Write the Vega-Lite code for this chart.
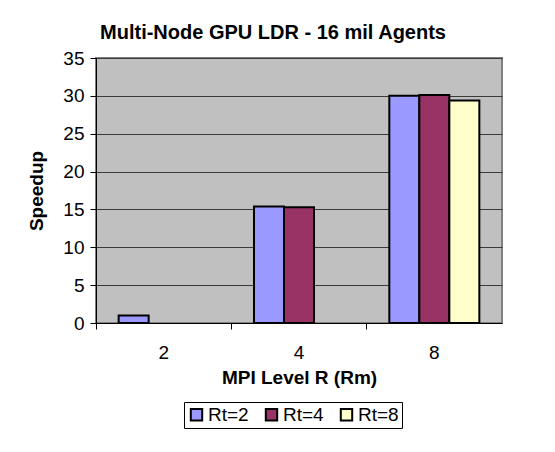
{
  "$schema": "https://vega.github.io/schema/vega-lite/v6.json",
  "autosize": {"type": "none"},
  "width": 406,
  "height": 265,
  "padding": {"left": 96, "top": 58, "right": 53, "bottom": 129},
  "background": "white",
  "title": {
    "text": "Multi-Node GPU LDR - 16 mil Agents",
    "font": "Liberation Sans",
    "fontSize": 20,
    "fontWeight": "bold",
    "color": "black",
    "anchor": "middle",
    "dx": -26,
    "offset": 6
  },
  "data": {
    "values": [
      {"R": "2", "Rt": "Rt=2", "speedup": 1.0},
      {"R": "4", "Rt": "Rt=2", "speedup": 15.4},
      {"R": "4", "Rt": "Rt=4", "speedup": 15.3},
      {"R": "8", "Rt": "Rt=2", "speedup": 30.0},
      {"R": "8", "Rt": "Rt=4", "speedup": 30.1},
      {"R": "8", "Rt": "Rt=8", "speedup": 29.4}
    ]
  },
  "mark": {"type": "bar", "stroke": "black", "strokeWidth": 2},
  "encoding": {
    "x": {
      "field": "R",
      "type": "nominal",
      "sort": ["2", "4", "8"],
      "scale": {"paddingInner": 0, "paddingOuter": 0},
      "axis": {
        "title": "MPI Level R (Rm)",
        "labelAngle": 0,
        "bandPosition": 0,
        "labelFont": "Liberation Sans",
        "labelFontSize": 19,
        "labelColor": "black",
        "labelPadding": 14,
        "titleFont": "Liberation Sans",
        "titleFontSize": 19,
        "titleFontWeight": "bold",
        "titleColor": "black",
        "titlePadding": 6,
        "domainColor": "black",
        "domainWidth": 1,
        "tickColor": "black",
        "tickSize": 6,
        "grid": false
      }
    },
    "xOffset": {
      "field": "Rt",
      "type": "nominal",
      "sort": ["Rt=2", "Rt=4", "Rt=8"],
      "scale": {"paddingInner": 0, "paddingOuter": 0.755}
    },
    "y": {
      "field": "speedup",
      "type": "quantitative",
      "scale": {"domain": [0, 35], "nice": false},
      "axis": {
        "title": "Speedup",
        "values": [0, 5, 10, 15, 20, 25, 30, 35],
        "labelFont": "Liberation Sans",
        "labelFontSize": 19,
        "labelColor": "black",
        "labelPadding": 6,
        "titleFont": "Liberation Sans",
        "titleFontSize": 19,
        "titleFontWeight": "bold",
        "titleColor": "black",
        "titlePadding": 16,
        "domainColor": "black",
        "tickColor": "black",
        "tickSize": 6,
        "grid": true,
        "gridColor": "#3a3a3a",
        "gridWidth": 1
      }
    },
    "fill": {
      "field": "Rt",
      "type": "nominal",
      "sort": ["Rt=2", "Rt=4", "Rt=8"],
      "scale": {"domain": ["Rt=2", "Rt=4", "Rt=8"], "range": ["#9999FF", "#993366", "#FFFFCC"]},
      "legend": {
        "title": null,
        "orient": "none",
        "legendX": 88,
        "legendY": 344,
        "direction": "horizontal",
        "symbolType": "square",
        "symbolSize": 130,
        "symbolStrokeColor": "black",
        "symbolStrokeWidth": 2,
        "labelFont": "Liberation Sans",
        "labelFontSize": 19,
        "labelColor": "black",
        "labelOffset": 2,
        "columnPadding": 12,
        "strokeColor": "black",
        "padding": 3,
        "fillColor": "white"
      }
    }
  },
  "config": {
    "view": {"fill": "#C0C0C0", "stroke": "#808080", "strokeWidth": 2}
  }
}
